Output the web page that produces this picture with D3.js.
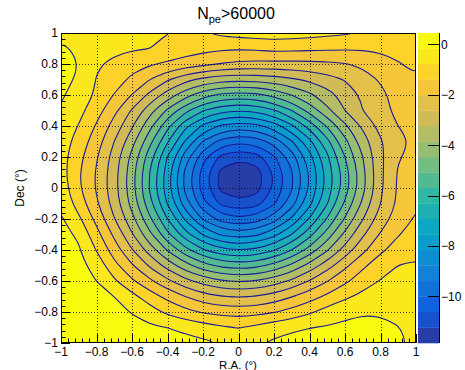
<!DOCTYPE html>
<html>
<head>
<meta charset="utf-8">
<script src="https://cdn.jsdelivr.net/npm/d3@7"></script>
<style>
  body { margin: 0; background: #fff; }
  text { font-family: "Liberation Sans", Arial, Helvetica, sans-serif; fill: #000; }
</style>
</head>
<body>
<svg id="chart" width="465" height="370"></svg>
<script>
// grid positions (deg)
const raValues = [-1, -0.9, -0.8, -0.7, -0.6, -0.5, -0.4, -0.3, -0.2, -0.1, 0, 0.1, 0.2, 0.3, 0.4, 0.5, 0.6, 0.7, 0.8, 0.9, 1];
const decValues = [1, 0.9, 0.8, 0.7, 0.6, 0.5, 0.4, 0.3, 0.2, 0.1, 0, -0.1, -0.2, -0.3, -0.4, -0.5, -0.6, -0.7, -0.8, -0.9, -1];

// z, one row per Dec value (top row = Dec 1)
const zRows = [
  [-0.41,-0.50,-0.60,-0.66,-0.71,-0.74,-0.77,-0.84,-0.81,-0.66,-0.56,-0.50,-0.47,-0.50,-0.56,-0.64,-0.71,-0.81,-0.96,-1.09,-1.09],
  [-0.04,-0.29,-0.47,-0.60,-0.71,-0.78,-0.93,-1.09,-1.21,-1.30,-1.33,-1.30,-1.21,-1.24,-1.27,-1.30,-1.33,-1.33,-1.30,-1.24,-1.15],
  [0.02,-0.17,-0.69,-0.96,-1.18,-1.33,-1.49,-1.67,-1.86,-2.04,-2.16,-2.19,-2.19,-2.19,-2.16,-2.13,-2.04,-1.89,-1.64,-1.43,-1.27],
  [-0.01,-0.23,-0.81,-1.12,-1.52,-2.01,-2.56,-3.06,-3.39,-3.61,-3.67,-3.64,-3.52,-3.33,-3.12,-2.87,-2.59,-2.29,-1.95,-1.64,-1.46],
  [-0.10,-0.41,-0.87,-1.43,-2.04,-2.78,-3.52,-4.22,-4.84,-5.21,-5.33,-5.24,-4.90,-4.47,-3.98,-3.49,-2.99,-2.53,-2.13,-1.83,-1.64],
  [-0.20,-0.60,-1.15,-1.86,-2.69,-3.61,-4.59,-5.52,-6.28,-6.75,-6.90,-6.78,-6.38,-5.70,-4.87,-4.01,-3.24,-2.63,-2.16,-1.89,-1.76],
  [-0.38,-0.81,-1.46,-2.26,-3.18,-4.29,-5.52,-6.78,-7.67,-8.25,-8.47,-8.34,-7.85,-7.05,-6.07,-5.02,-3.98,-3.12,-2.44,-2.01,-1.86],
  [-0.47,-1.03,-1.73,-2.63,-3.64,-4.90,-6.25,-7.61,-8.81,-9.61,-9.88,-9.73,-9.14,-8.22,-7.11,-5.88,-4.65,-3.55,-2.69,-2.19,-1.89],
  [-0.53,-1.21,-1.95,-2.90,-4.04,-5.45,-6.96,-8.47,-9.79,-10.78,-11.08,-10.90,-10.10,-9.08,-7.79,-6.44,-5.09,-3.86,-2.75,-2.07,-1.76],
  [-0.53,-1.33,-2.07,-2.99,-4.22,-5.70,-7.24,-8.90,-10.25,-11.40,-11.75,-11.55,-10.56,-9.45,-8.10,-6.68,-5.39,-4.04,-2.75,-1.95,-1.58],
  [-0.44,-1.30,-2.07,-3.02,-4.25,-5.76,-7.30,-8.93,-10.28,-11.40,-11.73,-11.52,-10.56,-9.45,-8.10,-6.68,-5.39,-4.04,-2.75,-1.92,-1.52],
  [-0.26,-1.06,-1.92,-2.90,-4.07,-5.52,-6.99,-8.50,-9.82,-10.75,-11.05,-10.88,-10.10,-9.05,-7.73,-6.35,-4.99,-3.73,-2.63,-1.89,-1.46],
  [-0.10,-0.66,-1.58,-2.59,-3.67,-4.96,-6.32,-7.64,-8.84,-9.64,-9.88,-9.70,-9.05,-8.07,-6.87,-5.64,-4.41,-3.27,-2.35,-1.70,-1.33],
  [0.02,-0.26,-1.18,-2.13,-3.18,-4.32,-5.55,-6.68,-7.61,-8.22,-8.47,-8.28,-7.73,-6.93,-5.92,-4.81,-3.70,-2.72,-1.95,-1.43,-1.15],
  [0.14,-0.10,-0.81,-1.70,-2.59,-3.52,-4.53,-5.49,-6.25,-6.75,-6.93,-6.81,-6.38,-5.70,-4.84,-3.92,-2.99,-2.16,-1.52,-1.12,-0.90],
  [0.20,0.02,-0.41,-1.21,-1.95,-2.72,-3.49,-4.22,-4.84,-5.24,-5.39,-5.27,-4.90,-4.35,-3.64,-2.90,-2.16,-1.52,-1.03,-0.78,-0.72],
  [0.27,0.14,-0.17,-0.69,-1.30,-1.89,-2.50,-3.06,-3.49,-3.79,-3.92,-3.82,-3.55,-3.12,-2.59,-2.04,-1.52,-1.06,-0.75,-0.60,-0.56],
  [0.30,0.20,0.02,-0.17,-0.60,-1.09,-1.58,-2.01,-2.38,-2.59,-2.68,-2.59,-2.38,-2.04,-1.67,-1.27,-0.90,-0.63,-0.47,-0.44,-0.44],
  [0.33,0.27,0.17,0.02,-0.20,-0.53,-0.90,-1.21,-1.46,-1.60,-1.66,-1.60,-1.43,-1.18,-0.87,-0.53,-0.29,-0.20,-0.20,-0.29,-0.41],
  [0.36,0.33,0.27,0.17,0.05,-0.07,-0.17,-0.32,-0.50,-0.69,-0.81,-0.63,-0.41,-0.26,-0.18,-0.12,-0.07,-0.05,-0.07,-0.15,-0.41],
  [0.39,0.36,0.33,0.30,0.23,0.17,0.11,0.05,-0.04,-0.18,-0.32,-0.23,-0.07,0.02,0.08,0.11,0.14,0.14,0.08,-0.04,-0.29]
];

const zRange = [-11.85, 0.45];
const nLevels = 20;
const axisTicks = [-1, -0.8, -0.6, -0.4, -0.2, 0, 0.2, 0.4, 0.6, 0.8, 1];
const axisLabels = ["\u22121", "\u22120.8", "\u22120.6", "\u22120.4", "\u22120.2", "0", "0.2", "0.4", "0.6", "0.8", "1"];
const zTicks = [0, -2, -4, -6, -8, -10];
const zLabels = ["0", "\u22122", "\u22124", "\u22126", "\u22128", "\u221210"];

// kBird palette (ROOT)
const birdStops = [0, 0.125, 0.25, 0.375, 0.5, 0.625, 0.75, 0.875, 1];
const birdR = [0.2082, 0.0592, 0.0780, 0.0232, 0.1802, 0.5301, 0.8186, 0.9956, 0.9764];
const birdG = [0.1664, 0.3599, 0.5041, 0.6419, 0.7178, 0.7492, 0.7328, 0.7862, 0.9832];
const birdB = [0.5293, 0.8684, 0.8385, 0.7914, 0.6425, 0.4662, 0.3499, 0.1968, 0.0539];

const W = 465, H = 370;
const frame = { left: 61, right: 416, top: 33, bottom: 343 };

let svg = d3.select("#chart");

let x = d3.scaleLinear().domain([-1, 1]).range([frame.left, frame.right]);
let y = d3.scaleLinear().domain([-1, 1]).range([frame.bottom, frame.top]);

let rScale = d3.scaleLinear().domain(birdStops).range(birdR);
let gScale = d3.scaleLinear().domain(birdStops).range(birdG);
let bScale = d3.scaleLinear().domain(birdStops).range(birdB);
function birdColor(t) {
  return d3.rgb(rScale(t) * 255, gScale(t) * 255, bScale(t) * 255).formatHex();
}
// ROOT picks palette entry int((i+0.99)*ncolors/ndivz) out of 255
function bandColor(i) {
  let idx = Math.floor((i + 0.99) * 255 / nLevels);
  return birdColor(Math.min(idx, 254) / 254);
}

const step = (zRange[1] - zRange[0]) / nLevels;
let thresholds = d3.range(nLevels).map(i => zRange[0] + i * step);

let nx = raValues.length, ny = decValues.length;
let flat = [];
zRows.forEach(row => row.forEach(v => flat.push(v)));

// grid coords: value i sits at i+0.5
let gx = d3.scaleLinear().domain([0.5, nx - 0.5]).range([x(raValues[0]), x(raValues[nx - 1])]);
let gy = d3.scaleLinear().domain([0.5, ny - 0.5]).range([y(decValues[0]), y(decValues[ny - 1])]);

let contours = d3.contours().size([nx, ny]);
let ringLine = d3.line()
  .x(p => gx(p[0]))
  .y(p => gy(p[1]))
  .curve(d3.curveBasisClosed);

function pathOf(geom) {
  return geom.coordinates
    .map(poly => poly.map(ring => ringLine(ring.slice(0, -1))).join(""))
    .join("");
}

svg.append("rect").attr("width", W).attr("height", H).attr("fill", "#fff");

svg.append("clipPath").attr("id", "frameClip")
  .append("rect")
  .attr("x", frame.left).attr("y", frame.top)
  .attr("width", frame.right - frame.left).attr("height", frame.bottom - frame.top);

let plot = svg.append("g").attr("clip-path", "url(#frameClip)");

plot.append("rect")
  .attr("x", frame.left).attr("y", frame.top)
  .attr("width", frame.right - frame.left).attr("height", frame.bottom - frame.top)
  .attr("fill", bandColor(0));

let levels = thresholds.map((t, i) => ({ i: i, t: t, geom: contours.contour(flat, t) }));

plot.selectAll(".band")
  .data(levels.slice(1))
  .enter().append("path")
  .attr("class", "band")
  .attr("d", d => pathOf(d.geom))
  .attr("fill", d => bandColor(d.i))
  .attr("fill-rule", "evenodd")
  .attr("stroke", "none");

plot.selectAll(".iso")
  .data(levels.slice(1))
  .enter().append("path")
  .attr("class", "iso")
  .attr("d", d => pathOf(d.geom))
  .attr("fill", "none")
  .attr("stroke", "#1a1a96")
  .attr("stroke-width", 1.1);

// dotted grid
let grid = svg.append("g").attr("stroke", "#000").attr("stroke-width", 1)
  .attr("stroke-dasharray", "1,2").attr("opacity", 0.75);
axisTicks.slice(1, -1).forEach(v => {
  grid.append("line").attr("x1", Math.round(x(v)) + 0.5).attr("x2", Math.round(x(v)) + 0.5)
    .attr("y1", frame.top).attr("y2", frame.bottom);
  grid.append("line").attr("x1", frame.left).attr("x2", frame.right)
    .attr("y1", Math.round(y(v)) + 0.5).attr("y2", Math.round(y(v)) + 0.5);
});

// frame
svg.append("rect")
  .attr("x", frame.left + 0.5).attr("y", frame.top + 0.5)
  .attr("width", frame.right - frame.left - 1).attr("height", frame.bottom - frame.top - 1)
  .attr("fill", "none").attr("stroke", "#000").attr("stroke-width", 1);

// ticks, inside the frame
let ticks = svg.append("g").attr("stroke", "#000").attr("stroke-width", 1);
let minor = d3.range(0, 51).map(k => -1 + k * 0.04);
minor.forEach((v, k) => {
  let len = (k % 5 === 0) ? 9 : 4.5;
  let px = Math.round(x(v)) + 0.5;
  ticks.append("line").attr("x1", px).attr("x2", px)
    .attr("y1", frame.bottom).attr("y2", frame.bottom - len);
  let py = Math.round(y(v)) + 0.5;
  ticks.append("line").attr("x1", frame.left).attr("x2", frame.left + len)
    .attr("y1", py).attr("y2", py);
});

svg.selectAll(".xlab")
  .data(axisTicks)
  .enter().append("text")
  .attr("class", "xlab")
  .attr("x", d => x(d))
  .attr("y", 355.5)
  .attr("text-anchor", "middle")
  .attr("font-size", 12)
  .text((d, i) => axisLabels[i]);

svg.selectAll(".ylab")
  .data(axisTicks)
  .enter().append("text")
  .attr("class", "ylab")
  .attr("x", 58)
  .attr("y", d => y(d) + 4)
  .attr("text-anchor", "end")
  .attr("font-size", 12)
  .text((d, i) => axisLabels[i]);

svg.append("text")
  .attr("x", 238).attr("y", 368.5)
  .attr("text-anchor", "middle")
  .attr("font-size", 11.5)
  .text("R.A. (\u00b0)");

svg.append("text")
  .attr("transform", "translate(24,188) rotate(-90)")
  .attr("text-anchor", "middle")
  .attr("font-size", 12)
  .text("Dec (\u00b0)");

// title
let title = svg.append("text")
  .attr("x", 236).attr("y", 19)
  .attr("text-anchor", "middle")
  .attr("font-size", 16);
title.append("tspan").text("N");
title.append("tspan").attr("font-size", 11).attr("dy", 4).text("pe");
title.append("tspan").attr("dy", -4).text(">60000");

// colour bar
let bar = { left: 418, right: 439 };
let z = d3.scaleLinear().domain(zRange).range([frame.bottom, frame.top]);
svg.selectAll(".cbar")
  .data(thresholds)
  .enter().append("rect")
  .attr("class", "cbar")
  .attr("x", bar.left)
  .attr("width", bar.right - bar.left)
  .attr("y", d => z(d + step))
  .attr("height", d => z(d) - z(d + step) + 0.3)
  .attr("fill", (d, i) => bandColor(i));

svg.append("line")
  .attr("x1", bar.right + 0.5).attr("x2", bar.right + 0.5)
  .attr("y1", frame.top).attr("y2", frame.bottom)
  .attr("stroke", "#000");

svg.selectAll(".ztick")
  .data(zTicks)
  .enter().append("line")
  .attr("class", "ztick")
  .attr("x1", bar.right - 11).attr("x2", bar.right)
  .attr("y1", d => Math.round(z(d)) + 0.5).attr("y2", d => Math.round(z(d)) + 0.5)
  .attr("stroke", "#000");

svg.selectAll(".zlab")
  .data(zTicks)
  .enter().append("text")
  .attr("class", "zlab")
  .attr("x", 441)
  .attr("y", d => z(d) + 4.5)
  .attr("font-size", 12)
  .text((d, i) => zLabels[i]);
</script>
</body>
</html>
